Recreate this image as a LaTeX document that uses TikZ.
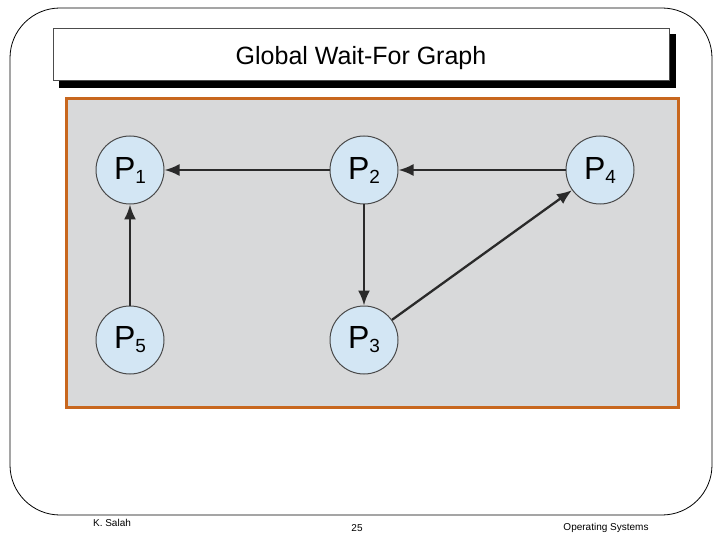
\documentclass[tikz,border=0pt]{standalone}
\usepackage{fontspec}
\setmainfont{Liberation Sans}
\definecolor{panel}{HTML}{D8D9DA}
\definecolor{orng}{HTML}{C8671E}
\definecolor{cfill}{HTML}{D3E6F4}
\definecolor{edge}{HTML}{2A2A2A}
\usetikzlibrary{arrows.meta}
\tikzset{
  proc/.style={circle,draw=edge!85,line width=1pt,fill=cfill,minimum size=68pt,inner sep=0pt,font=\fontsize{32}{34}\selectfont},
  arr/.style={draw=edge,line width=2.3pt,-{Latex[length=15pt,width=12pt]}},
  foot/.style={font=\fontsize{10}{12}\selectfont}
}
\newcommand{\pl}[1]{P\raisebox{-4pt}{\fontsize{19}{21}\selectfont #1}}
\begin{document}
\begin{tikzpicture}[x=1pt,y=-1pt]
\useasboundingbox (0,0) rectangle (720,540);
\draw[line width=0.8pt,rounded corners=50pt] (10,8) rectangle (712,515);
\fill[black] (59,34) rectangle (676,88);
\node[draw=black!70,fill=white,minimum width=616pt,minimum height=52pt,inner sep=0pt,anchor=north west] (title) at (53,28) {};
\node[font=\fontsize{25}{28}\selectfont] (tt) at (361,58) {Global Wait-For Graph};
\draw[orng,line width=3pt,fill=panel] (66,99) rectangle (678,407);
\node[proc] (p1) at (130,170) {\pl{1}};
\node[proc] (p2) at (364,170) {\pl{2}};
\node[proc] (p4) at (600,170) {\pl{4}};
\node[proc] (p5) at (130,340) {\pl{5}};
\node[proc] (p3) at (364,340) {\pl{3}};
\draw[arr] (p2) -- (p1);
\draw[arr] (p4) -- (p2);
\draw[arr] (p2) -- (p3);
\draw[arr] (p5) -- (p1);
\draw[arr] (p3) -- (p4);
\node[foot] (f1) at (112,523) {K. Salah};
\node[foot] (f2) at (357,528) {25};
\node[foot] (f3) at (606,528) {Operating Systems};
\end{tikzpicture}
\end{document}
